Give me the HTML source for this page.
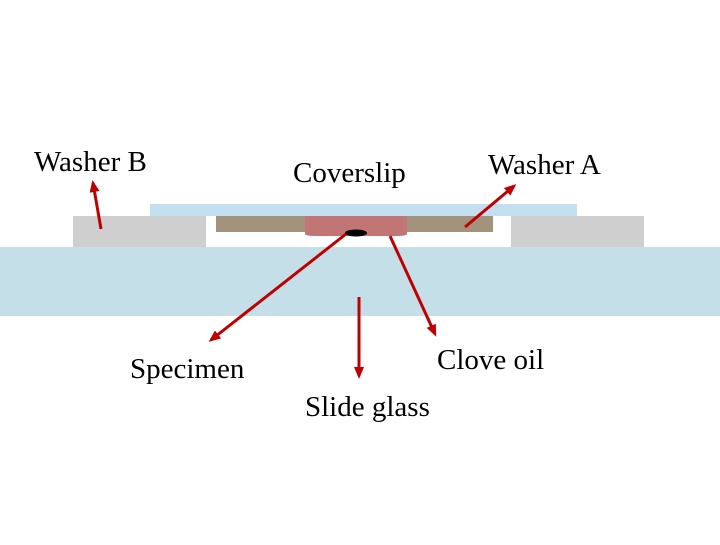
<!DOCTYPE html>
<html><head><style>
body{margin:0;width:720px;height:540px;background:#fff;overflow:hidden}
</style></head><body>
<svg width="720" height="540" xmlns="http://www.w3.org/2000/svg" font-family="Liberation Serif, serif" font-size="29">
<defs><marker id="a" markerWidth="12" markerHeight="12" refX="9" refY="6" orient="auto" markerUnits="userSpaceOnUse"><path d="M0,1 L12,6 L0,11 Z" fill="#c00000"/></marker></defs>
<rect x="0" y="247" width="720" height="69" fill="#c5dfe9"/>
<rect x="150" y="204" width="427" height="12" fill="#c3dff0"/>
<rect x="73" y="216" width="133" height="31" fill="#cfcfcf"/>
<rect x="511" y="216" width="133" height="31" fill="#cfcfcf"/>
<rect x="216" y="216" width="277" height="16" fill="#a3937c"/>
<path d="M305,216 H407 V234 Q407,236 395,236 H317 Q305,236 305,234 Z" fill="#c17575"/>
<ellipse cx="356" cy="233" rx="11" ry="3.5" fill="#000"/>
<g stroke="#c00000" stroke-width="3" fill="none">
<line x1="101" y1="229" x2="93" y2="183" marker-end="url(#a)"/>
<line x1="465" y1="227" x2="514" y2="186" marker-end="url(#a)"/>
<line x1="346" y1="234" x2="211" y2="340" marker-end="url(#a)"/>
<line x1="390" y1="236" x2="435" y2="334" marker-end="url(#a)"/>
<line x1="359" y1="297" x2="359" y2="376" marker-end="url(#a)"/>
</g>
<g fill="#000">
<text x="34" y="171">Washer B</text>
<text x="293" y="182">Coverslip</text>
<text x="488" y="174">Washer A</text>
<text x="130" y="378">Specimen</text>
<text x="437" y="369">Clove oil</text>
<text x="305" y="416">Slide glass</text>
</g>
</svg>
</body></html>
